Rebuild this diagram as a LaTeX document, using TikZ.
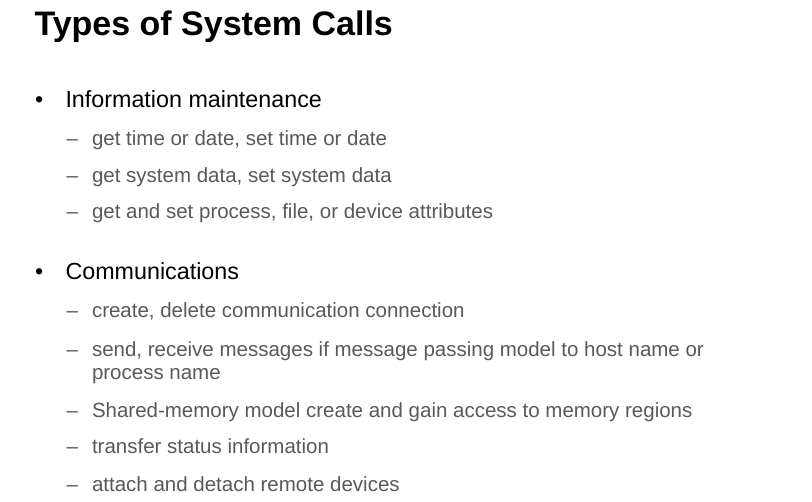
\documentclass[tikz,border=0pt]{standalone}
\usepackage{fontspec}
\setmainfont{Liberation Sans}
\definecolor{subgray}{HTML}{595959}
\begin{document}
\begin{tikzpicture}[x=1bp,y=-1bp,
  every node/.style={anchor=base west,inner sep=0pt,outer sep=0pt},
  titletext/.style={font=\fontsize{34bp}{40bp}\selectfont\bfseries,text=black},
  itemtext/.style={font=\fontsize{23.3bp}{28bp}\selectfont,text=black},
  bul/.style={font=\fontsize{23.3bp}{28bp}\selectfont,text=black},
  subtext/.style={font=\fontsize{20.5bp}{23bp}\selectfont,text=subgray,align=left},
  dashmark/.style={font=\fontsize{20.5bp}{23bp}\selectfont,text=subgray}]
\useasboundingbox[fill=white] (0,0) rectangle (812,502);
\node[titletext] (title) at (34.5,35.7) {Types of System Calls};
% Information maintenance
\node[bul] (b1) at (35,107.7) {•};
\node[itemtext] (i1) at (65.5,107.7) {Information maintenance};
\node[dashmark] (d11) at (66.5,146) {–};
\node[subtext] (s11) at (92,146) {get time or date, set time or date};
\node[dashmark] (d12) at (66.5,183) {–};
\node[subtext] (s12) at (92,183) {get system data, set system data};
\node[dashmark] (d13) at (66.5,219) {–};
\node[subtext] (s13) at (92,219) {get and set process, file, or device attributes};
% Communications
\node[bul] (b2) at (35,280) {•};
\node[itemtext] (i2) at (65.5,280) {Communications};
\node[dashmark] (d21) at (66.5,318) {–};
\node[subtext] (s21) at (92,318) {create, delete communication connection};
\node[dashmark] (d22) at (66.5,356) {–};
\node[subtext] (s22) at (92,356) {send, receive messages if message passing model to host name or};
\node[subtext] (s22b) at (92,379) {process name};
\node[dashmark] (d23) at (66.5,417) {–};
\node[subtext] (s23) at (92,417) {Shared-memory model create and gain access to memory regions};
\node[dashmark] (d24) at (66.5,453) {–};
\node[subtext] (s24) at (92,453) {transfer status information};
\node[dashmark] (d25) at (66.5,491) {–};
\node[subtext] (s25) at (92,491) {attach and detach remote devices};
\end{tikzpicture}
\end{document}
